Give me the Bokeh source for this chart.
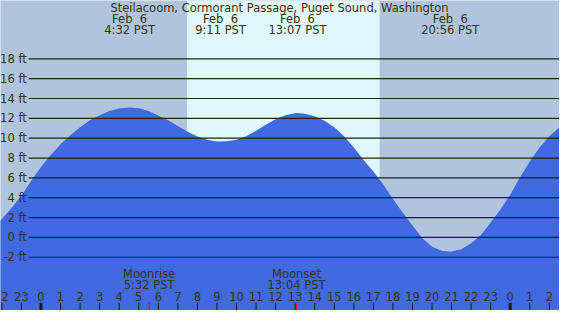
from bokeh.plotting import figure
from bokeh.models import Range1d
from bokeh.embed import file_html
from bokeh.resources import INLINE
from bokeh.core.properties import value

# ---------------- data ----------------
title = "Steilacoom, Cormorant Passage, Puget Sound, Washington"

# tide height (ft); hours from midnight Feb 6 (PST)
tide_hours = [-3, -2.5, -2, -1.5, -1, -0.5, 0, 0.5, 1, 1.5, 2, 2.5, 3, 3.5, 4, 4.53,
              5, 5.5, 6, 6.5, 7, 7.5, 8, 8.5, 9, 9.18, 9.5, 10, 10.5, 11, 11.5, 12,
              12.5, 13, 13.12, 13.5, 14, 14.5, 15, 15.5, 16, 16.5, 17, 17.5, 18,
              18.5, 19, 19.5, 20, 20.5, 20.93, 21.5, 22, 22.5, 23, 23.5, 24, 24.5,
              25, 25.5, 26, 26.5, 27]
tide_feet = [-0.1, 0.8, 1.85, 3.0, 4.2, 5.7, 7.1, 8.3, 9.4, 10.3, 11.1, 11.8, 12.3, 12.75, 13.0, 13.1,
             13.02, 12.75, 12.28, 11.8, 11.22, 10.65, 10.18, 9.85, 9.67, 9.66, 9.7, 9.85, 10.2, 10.75, 11.35, 11.9,
             12.3, 12.52, 12.54, 12.47, 12.2, 11.75, 11.1, 10.2, 9.05, 7.8, 6.65, 5.35, 3.86,
             2.5, 1.19, -0.05, -0.95, -1.35, -1.45, -1.2, -0.6, 0.25, 1.5, 2.8, 4.3, 6.05,
             7.65, 9.05, 10.2, 11.05, 11.8]

event_hours = [4 + 32/60, 9 + 11/60, 13 + 7/60, 20 + 56/60]
event_dates = ["Feb  6", "Feb  6", "Feb  6", "Feb  6"]
event_times = ["4:32 PST", "9:11 PST", "13:07 PST", "20:56 PST"]

moon_hours = [5 + 32/60, 13 + 4/60]
moon_names = ["Moonrise", "Moonset"]
moon_times = ["5:32 PST", "13:04 PST"]

sunrise = 7.47
sunset = 17.32

ytick_values = [18, 16, 14, 12, 10, 8, 6, 4, 2, 0, -2]
ytick_labels = ["18 ft", "16 ft", "14 ft", "12 ft", "10 ft", "8 ft", "6 ft", "4 ft", "2 ft", "0 ft", "-2 ft"]

hour_ticks = list(range(-2, 27))
hour_labels = [str(h % 24) for h in hour_ticks]

# ---------------- layout ----------------
X0, X1 = -2.07, 26.52
Y0, Y1 = -7.37, 23.88
REF_W, REF_H = 575.0, 326.0

def px_x(px):
    return X0 + (X1 - X0) * px / REF_W

def px_y(py):
    return Y1 - (Y1 - Y0) * py / REF_H

NIGHT = "#b0c4de"
DAY = "#e0f8ff"
WATER = "#4169e1"
INK = "#333308"
LINE = "#222205"
FONT = value("DejaVu Sans")
FS = "11.5px"

p = figure(width=559, height=310, x_range=Range1d(X0, X1), y_range=Range1d(Y0, Y1),
           output_backend="svg", toolbar_location=None, min_border=0)
p.axis.visible = False
p.grid.visible = False
p.outline_line_color = None
p.background_fill_color = NIGHT
p.border_fill_color = "white"

# daylight band
p.quad(left=[sunrise], right=[sunset], bottom=[Y0], top=[Y1], fill_color=DAY, line_color=None)

# tide
p.varea(x=tide_hours, y1=tide_feet, y2=[Y0] * len(tide_hours), fill_color=WATER)

# horizontal level lines
gx0 = px_x(29)
p.segment(x0=[gx0] * len(ytick_values), x1=[X1] * len(ytick_values), y0=ytick_values,
          y1=ytick_values, line_color=LINE, line_width=1.2)
p.text(x=[px_x(27)] * len(ytick_values), y=ytick_values, text=ytick_labels,
       text_align="right", text_baseline="middle", text_font=FONT, text_font_size=FS,
       text_color=INK)

def shown(s):
    # keep the double space visible in SVG text
    return s.replace("  ", "\u00a0\u00a0")

# title and events
p.text(x=[px_x(287)], y=[px_y(8)], text=[title], text_align="center", text_baseline="middle",
       text_font=FONT, text_font_size=FS, text_color=INK)
p.text(x=event_hours, y=[px_y(19.5)] * len(event_hours), text=[shown(s) for s in event_dates],
       text_align="center", text_baseline="middle", text_font=FONT, text_font_size=FS,
       text_color=INK)
p.text(x=event_hours, y=[px_y(31)] * len(event_hours), text=event_times, text_align="center",
       text_baseline="middle", text_font=FONT, text_font_size=FS, text_color=INK)

# moon
p.text(x=moon_hours, y=[px_y(288)] * 2, text=moon_names, text_align="center",
       text_baseline="middle", text_font=FONT, text_font_size=FS, text_color=INK)
p.text(x=moon_hours, y=[px_y(299)] * 2, text=moon_times, text_align="center",
       text_baseline="middle", text_font=FONT, text_font_size=FS, text_color=INK)

# hour ticks and labels; the first label sits at the left edge and only its
# visible last digit is drawn, as in the reference
lab_x = list(hour_ticks)
lab_t = list(hour_labels)
lab_x[0] = px_x(4.5)
lab_t[0] = lab_t[0][-1]
p.text(x=lab_x, y=[px_y(311)] * len(lab_x), text=lab_t, text_align="center",
       text_baseline="middle", text_font=FONT, text_font_size=FS, text_color=INK)
tick_top = px_y(318)
widths = [3 if h % 24 == 0 else 1 for h in hour_ticks]
p.segment(x0=hour_ticks, x1=hour_ticks, y0=[tick_top] * len(hour_ticks), y1=[Y0] * len(hour_ticks),
          line_color="#1a1a05", line_width=widths)
p.segment(x0=moon_hours, x1=moon_hours, y0=[tick_top] * 2, y1=[Y0] * 2,
          line_color="#ff0000", line_width=1)

open("out.html", "w").write(file_html(p, INLINE))
